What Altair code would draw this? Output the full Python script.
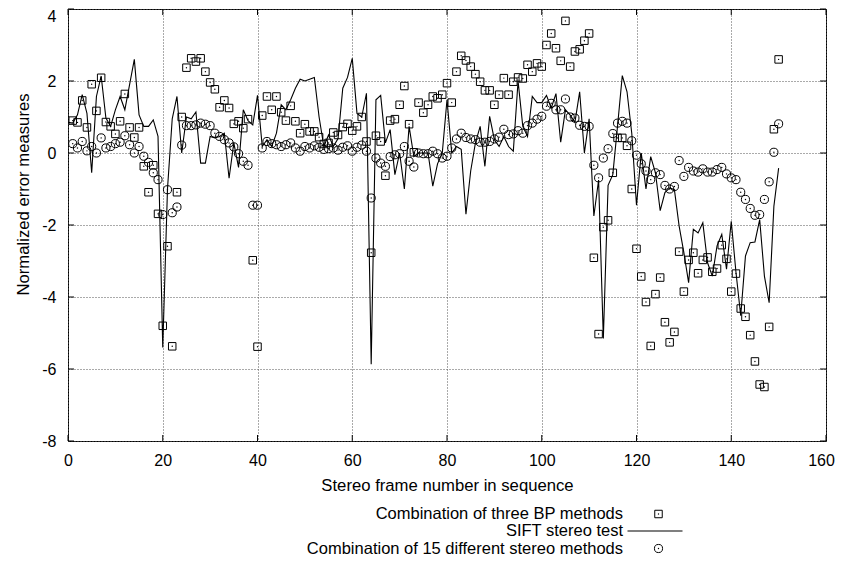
import altair as alt
import pandas as pd

FONT = "Liberation Sans"

frames = list(range(1, 151))
sift_frames = list(range(0, 151))

bp = [0.90, 0.85, 1.46, 0.71, 1.91, 1.17, 2.09, 0.86, 0.74, 0.53,
      0.88, 1.64, 0.71, 0.43, 0.71, -0.37, -1.09, -0.34, -1.69, -4.80,
      -2.59, -5.37, -1.09, 1.00, 2.37, 2.63, 2.54, 2.63, 2.26, 1.96,
      1.77, 1.27, 1.46, 1.25, 0.81, 0.88, 0.69, 0.94, -2.98, -5.38,
      1.04, 1.57, 1.20, 1.57, 1.13, 0.90, 1.31, 0.88, 0.55, 0.80,
      0.60, 0.60, 0.44, 0.25, 0.28, 0.57, 0.50, 0.72, 0.81, 0.62,
      0.74, 1.00, 0.32, -2.77, 0.48, 0.32, -0.63, 0.90, 0.94, 1.34,
      1.86, 0.80, 0.02, 1.40, 1.12, 1.34, 1.57, 1.52, 1.62, 1.94,
      1.40, 2.26, 2.70, 2.57, 2.40, 2.19, 1.98, 1.74, 1.74, 1.34,
      1.62, 2.08, 1.62, 1.98, 2.10, 2.07, 2.45, 2.26, 2.49, 2.40,
      3.00, 3.32, 2.91, 2.56, 3.67, 2.40, 2.82, 2.88, 3.12, 3.32,
      -2.91, -5.03, -2.06, -1.87, -0.55, 0.42, 0.42, 0.20, -1.00, -2.66,
      -3.43, -4.14, -5.36, -3.92, -3.46, -4.70, -5.26, -4.97, -2.74, -3.85,
      -2.97, -2.77, -3.34, -2.97, -2.90, -3.30, -3.21, -2.56, -2.94, -3.85,
      -3.35, -4.32, -4.55, -5.06, -5.79, -6.43, -6.50, -4.83, 0.66, 2.60]

sift = [0.85,
        0.83, 1.06, 1.62, 1.10, -0.55, 1.57, 2.14, 0.97, 0.74, 1.20,
        1.57, 1.20, 1.90, 2.60, 1.06, 0.74, 0.74, 0.92, 0.46, -5.40,
        -1.00, 0.95, 1.57, 0.00, 1.00, 0.95, 1.14, -0.28, -0.28, 0.46,
        0.42, 0.46, 0.55, -0.70, 0.28, -0.40, 1.20, 0.90, 0.78, 1.60,
        0.18, 0.37, 0.18, 0.55, 1.34, 1.20, 1.48, 1.80, 2.05, 2.00,
        2.05, 2.10, 1.00, 0.18, 0.50, 0.18, 0.40, 1.80, 2.10, 2.63,
        1.10, 1.00, 1.66, -5.87, 1.48, 1.60, 0.28, 0.65, -0.60, 0.00,
        -1.00, 0.74, -0.10, 0.00, 0.00, 0.00, -0.92, -0.30, 0.00, 1.48,
        0.00, 0.18, 0.10, -1.70, -0.50, 0.28, 0.74, -0.37, 1.02, 0.37,
        0.18, 0.46, 0.18, 0.05, 2.00, 0.74, 0.46, 1.57, 1.40, 1.40,
        1.60, 1.25, 1.65, 0.30, 1.20, 1.05, 0.85, 1.70, 0.00, 0.95,
        -1.75, -0.75, -5.15, -0.90, -0.60, 0.75, 2.15, 1.70, 0.55, -1.45,
        0.00, -1.00, -0.10, -0.55, -1.60, -1.10, -0.97, -1.02, -2.03, -2.77,
        -3.60, -2.12, -2.22, -1.94, -3.05, -3.42, -2.58, -2.26, -3.23, -1.90,
        -3.32, -4.52, -2.86, -2.49, -2.47, -1.85, -3.42, -4.16, -1.48, -0.42]

multi = [0.26, 0.14, 0.32, 0.06, 0.18, 0.00, 0.42, 0.14, 0.18, 0.26,
         0.30, 0.48, 0.23, 0.00, 0.18, -0.09, -0.26, -0.55, -0.74, -1.71,
         -1.02, -1.66, -1.50, 0.22, 0.76, 0.76, 0.78, 0.83, 0.80, 0.76,
         0.55, 0.46, 0.37, 0.28, 0.17, -0.02, -0.23, -0.34, -1.45, -1.45,
         0.14, 0.32, 0.26, 0.23, 0.18, 0.23, 0.28, 0.14, 0.05, 0.18,
         0.14, 0.20, 0.16, 0.10, 0.12, 0.14, 0.08, 0.16, 0.20, 0.05,
         0.16, 0.22, 0.05, -1.25, -0.14, -0.28, -0.37, -0.10, -0.05, -0.02,
         0.18, -0.23, -0.39, 0.00, -0.02, -0.02, 0.05, -0.02, -0.14, -0.09,
         0.14, 0.39, 0.55, 0.43, 0.39, 0.37, 0.30, 0.30, 0.32, 0.39,
         0.44, 0.66, 0.51, 0.53, 0.62, 0.55, 0.76, 0.83, 0.94, 1.02,
         1.30, 1.38, 1.20, 1.20, 1.50, 1.00, 0.97, 0.77, 0.74, 0.74,
         -0.34, -0.69, -0.14, 0.12, 0.54, 0.83, 0.88, 0.83, 0.34, -0.06,
         -0.30, -0.50, -0.74, -0.55, -0.60, -0.90, -1.00, -0.93, -0.21, -0.65,
         -0.40, -0.50, -0.53, -0.44, -0.53, -0.53, -0.46, -0.40, -0.58, -0.69,
         -0.74, -1.09, -1.29, -1.54, -1.73, -1.71, -1.29, -0.80, 0.02, 0.81]

x_ticks = [0, 20, 40, 60, 80, 100, 120, 140, 160]
y_ticks = [-8, -6, -4, -2, 0, 2, 4]

legend_labels = ["Combination of three BP methods",
                 "SIFT stereo test",
                 "Combination of 15 different stereo methods"]

W, H = 758, 432
TFS = 16.7   # title font size
GFS = 16.5   # legend font size
LFS = 16     # tick label font size

df_bp = pd.DataFrame({"frame": frames, "value": bp})
df_sift = pd.DataFrame({"frame": sift_frames, "value": sift})
df_multi = pd.DataFrame({"frame": frames, "value": multi})
df_xt = pd.DataFrame({"t": x_ticks})
df_yt = pd.DataFrame({"t": y_ticks})

xs = alt.Scale(domain=[0, 160], nice=False, zero=False)
ys = alt.Scale(domain=[-8, 4], nice=False, zero=False)

x_axis = alt.Axis(values=x_ticks, grid=True, gridDash=[1, 2], gridColor="#555",
                  gridWidth=1, ticks=False, domain=False, labelFont=FONT,
                  labelFontSize=LFS, labelPadding=11, labelColor="black",
                  labelFlush=False, labelExpr="'' + datum.value",
                  labelOffset={"condition": {"test": "datum.value == 160", "value": -5},
                               "value": 0},
                  title="Stereo frame number in sequence",
                  titleFont=FONT, titleFontSize=TFS, titleFontWeight="normal",
                  titleColor="black", titleX=W / 2, titleY=49,
                  titleBaseline="alphabetic", titleAlign="center")
y_axis = alt.Axis(values=y_ticks, grid=True, gridDash=[1, 2], gridColor="#555",
                  gridWidth=1, ticks=False, domain=False, labelFont=FONT,
                  labelFontSize=LFS, labelPadding=12, labelColor="black",
                  labelFlush=False, labelExpr="'' + datum.value",
                  labelOffset={"condition": {"test": "datum.value == 4", "value": 7},
                               "value": 0},
                  title="Normalized error measures",
                  titleFont=FONT, titleFontSize=TFS, titleFontWeight="normal",
                  titleColor="black", titleX=-45, titleY=185, titleAngle=270,
                  titleBaseline="middle", titleAlign="center")

X = alt.X("frame:Q", scale=xs, axis=x_axis)
Y = alt.Y("value:Q", scale=ys, axis=y_axis)
Xp = alt.X("frame:Q", scale=xs)
Yp = alt.Y("value:Q", scale=ys)

line = alt.Chart(df_sift).mark_line(color="black", strokeWidth=1.1).encode(x=X, y=Y)
squares = alt.Chart(df_bp).mark_point(shape="square", filled=False, color="black",
                                      size=56, strokeWidth=1, opacity=1).encode(x=Xp, y=Yp)
sq_dots = alt.Chart(df_bp).mark_point(shape="circle", filled=True, color="black",
                                      size=2, opacity=1).encode(x=Xp, y=Yp)
circles = alt.Chart(df_multi).mark_point(shape="circle", filled=False, color="black",
                                         size=66, strokeWidth=1, opacity=1).encode(x=Xp, y=Yp)
ci_dots = alt.Chart(df_multi).mark_point(shape="circle", filled=True, color="black",
                                         size=2, opacity=1).encode(x=Xp, y=Yp)

tk = 6
ticks_b = alt.Chart(df_xt).mark_rule(color="black", strokeWidth=1).encode(
    x=alt.X("t:Q", scale=xs), y=alt.value(H), y2=alt.value(H - tk))
ticks_t = alt.Chart(df_xt).mark_rule(color="black", strokeWidth=1).encode(
    x=alt.X("t:Q", scale=xs), y=alt.value(0), y2=alt.value(tk))
ticks_l = alt.Chart(df_yt).mark_rule(color="black", strokeWidth=1).encode(
    y=alt.Y("t:Q", scale=ys), x=alt.value(0), x2=alt.value(tk))
ticks_r = alt.Chart(df_yt).mark_rule(color="black", strokeWidth=1).encode(
    y=alt.Y("t:Q", scale=ys), x=alt.value(W), x2=alt.value(W - tk))

# legend (gnuplot style: text right-aligned, sample to the right)
lx_text = 555
lx_sym = 590.5
ly = [505, 522, 539.5]
leg = []
for i, lab in enumerate(legend_labels):
    leg.append(alt.Chart(pd.DataFrame({"label": [lab]})).mark_text(
        align="right", baseline="middle", font=FONT, fontSize=GFS, color="black").encode(
        text="label:N", x=alt.value(lx_text), y=alt.value(ly[i])))
one = pd.DataFrame({"k": [0]})
leg.append(alt.Chart(one).mark_point(shape="square", filled=False, color="black",
                                     size=56, strokeWidth=1, opacity=1).encode(
    x=alt.value(lx_sym), y=alt.value(ly[0])))
leg.append(alt.Chart(one).mark_point(shape="circle", filled=True, color="black",
                                     size=2, opacity=1).encode(
    x=alt.value(lx_sym), y=alt.value(ly[0])))
leg.append(alt.Chart(one).mark_rule(color="black", strokeWidth=1.1).encode(
    x=alt.value(559.5), x2=alt.value(614.5), y=alt.value(ly[1])))
leg.append(alt.Chart(one).mark_point(shape="circle", filled=False, color="black",
                                     size=66, strokeWidth=1, opacity=1).encode(
    x=alt.value(lx_sym), y=alt.value(ly[2])))
leg.append(alt.Chart(one).mark_point(shape="circle", filled=True, color="black",
                                     size=2, opacity=1).encode(
    x=alt.value(lx_sym), y=alt.value(ly[2])))

chart = alt.layer(line, squares, sq_dots, circles, ci_dots,
                  ticks_b, ticks_t, ticks_l, ticks_r, *leg).properties(
    width=W, height=H,
    autosize=alt.AutoSizeParams(type="none"),
    padding={"left": 60, "top": 1, "right": 9, "bottom": 114},
    background="white",
).configure_view(stroke="black", strokeWidth=1)

chart.save("out.html", embed_options={"renderer": "svg", "actions": False})
